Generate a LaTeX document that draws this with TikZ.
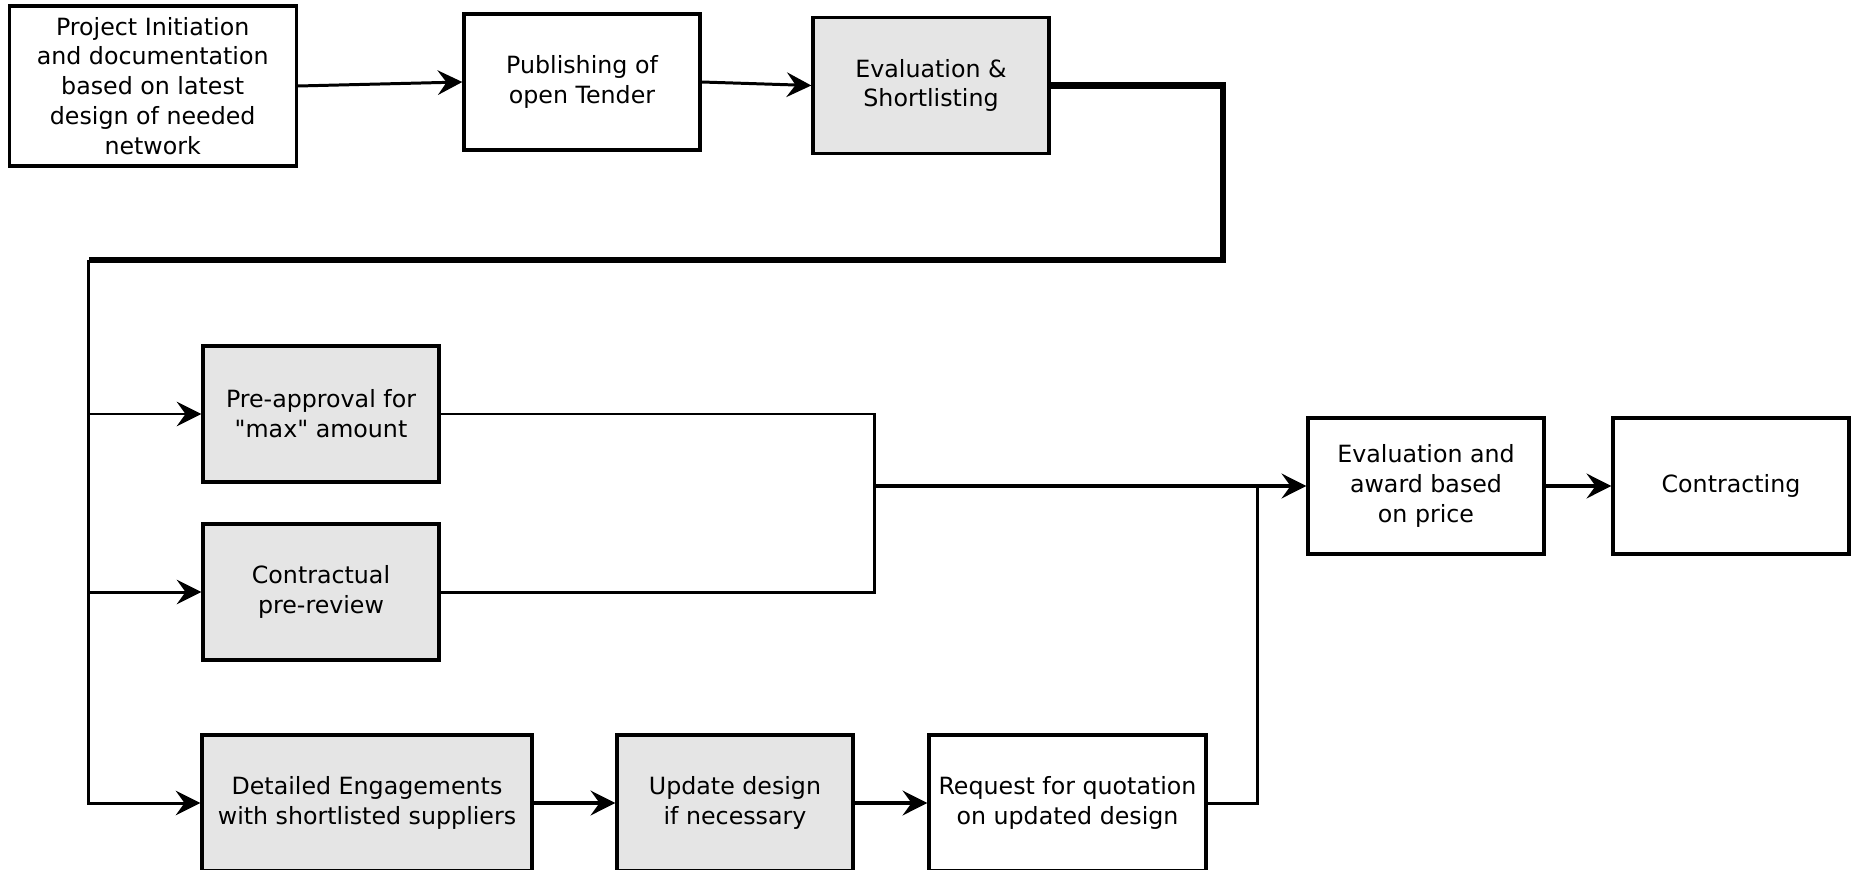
\documentclass[tikz,border=0pt]{standalone}
\usepackage{fontspec}
\setmainfont{DejaVu Sans}[Ligatures=TeXOff]
\usepackage{xcolor}
\usetikzlibrary{positioning,arrows.meta,calc}
\definecolor{BoxGray}{HTML}{E5E5E5}
\definecolor{LineDark}{HTML}{000000}

\begin{document}
\begin{tikzpicture}[
  every node/.style={font=\fontsize{6.75}{8.5}\selectfont},
  WB/.style={draw=LineDark, fill=white, line width=0.95pt,
             minimum height=1.36cm, minimum width=2.36cm,
             inner sep=0pt, align=center},
  GB/.style={WB, fill=BoxGray},
  arr/.style={-{Stealth[length=7pt,width=7pt,inset=2.5pt]}, line width=0.85pt},
  tarr/.style={-{Stealth[length=7pt,width=7pt,inset=2.5pt]}, line width=1.15pt},
  ln/.style={line width=0.85pt},
  thk/.style={line width=1.8pt},
]
  \useasboundingbox (0,0) rectangle (18.51,-8.69);

  % Top row
  \node[WB, minimum width=2.87cm, minimum height=1.60cm] (init) at (1.527,-0.86)
    {Project Initiation\\and documentation\\based on latest\\design of needed\\network};
  \node[WB] (pub)  at (5.82,-0.82) {Publishing of\\open Tender};
  \node[GB] (eval) at (9.31,-0.855) {Evaluation \&\\Shortlisting};

  % Parallel branch
  \node[GB] (pre)   at (3.21,-4.14) {Pre-approval for\\"max" amount};
  \node[GB] (contr) at (3.21,-5.92) {Contractual\\pre-review};

  % Bottom row
  \node[GB, minimum width=3.30cm] (detail) at (3.67,-8.03)
    {Detailed Engagements\\with shortlisted suppliers};
  \node[GB] (upd) at (7.35,-8.03) {Update design\\if necessary};
  \node[WB, minimum width=2.77cm] (req) at (10.675,-8.03)
    {Request for quotation\\on updated design};

  % Right side
  \node[WB] (award) at (14.26,-4.86) {Evaluation and\\award based\\on price};
  \node[WB] (contracting) at (17.31,-4.86) {Contracting};

  % Helper coordinates
  \coordinate (turnR) at (12.23,-2.60);
  \coordinate (turnL) at (0.885,-2.60);
  \coordinate (merge) at (8.74,-4.86);
  \coordinate (joinR) at (12.57,-4.86);

  % Arrows
  \draw[arr] (init.east) -- (pub.west);
  \draw[arr] (pub.east) -- (eval.west);
  \draw[thk] (eval.east) -| (turnR) -- (turnL);
  \draw[ln] (turnL) |- (pre.west -| turnL);
  \draw[arr] (pre.west -| turnL) -- (pre.west);
  \draw[arr] (contr.west -| turnL) -- (contr.west);
  \draw[arr] (turnL) |- (detail.west);

  \draw[ln] (pre.east) -| (merge) |- (contr.east);
  \draw[tarr] (merge) -- (award.west);
  \draw[ln] (req.east) -| (joinR);
  \draw[tarr] (award.east) -- (contracting.west);

  \draw[tarr] (detail.east) -- (upd.west);
  \draw[tarr] (upd.east) -- (req.west);
\end{tikzpicture}
\end{document}
